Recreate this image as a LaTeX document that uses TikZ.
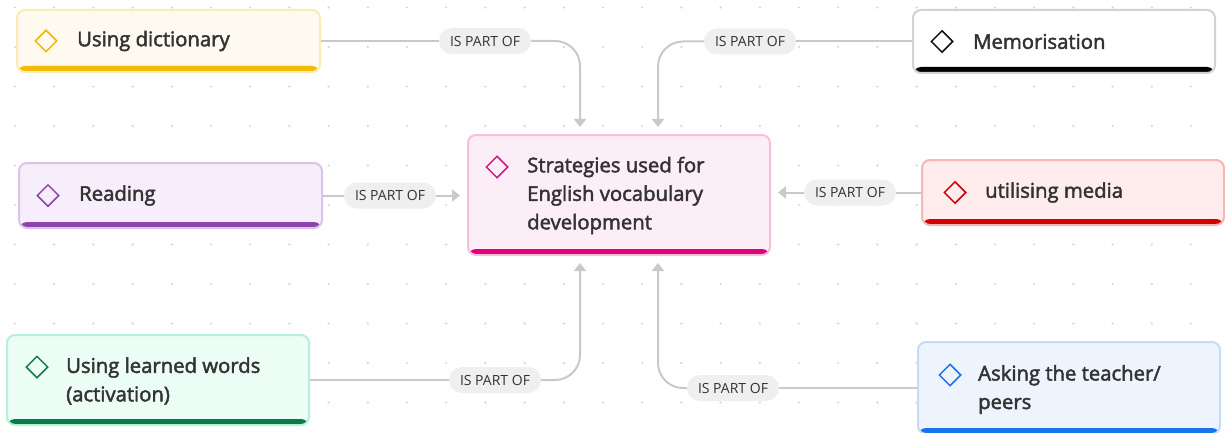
\documentclass[tikz,border=0pt]{standalone}
\usepackage{fontspec}
\setmainfont{Open Sans}
\newfontfamily\boxfont[FakeBold=2.2]{Open Sans}
\usetikzlibrary{arrows.meta,shapes.geometric,calc}

\definecolor{ink}{HTML}{333333}
\definecolor{wire}{HTML}{C9C9C9}
\definecolor{pill}{HTML}{EFEFEF}
\definecolor{dotc}{HTML}{D6D6D6}

\definecolor{dictFill}{HTML}{FFFAF0}\definecolor{dictLine}{HTML}{FCEBB6}\definecolor{dictBar}{HTML}{F4B900}\definecolor{dictIcon}{HTML}{EDB800}
\definecolor{memoFill}{HTML}{FFFFFF}\definecolor{memoLine}{HTML}{D2D2D2}\definecolor{memoBar}{HTML}{000000}\definecolor{memoIcon}{HTML}{111111}
\definecolor{mainFill}{HTML}{FCEEF6}\definecolor{mainLine}{HTML}{F6C0DD}\definecolor{mainBar}{HTML}{E3007D}\definecolor{mainIcon}{HTML}{C81F7E}
\definecolor{readFill}{HTML}{F6EEFA}\definecolor{readLine}{HTML}{DCC3EC}\definecolor{readBar}{HTML}{8E44AD}\definecolor{readIcon}{HTML}{8E44AD}
\definecolor{mediaFill}{HTML}{FFECEC}\definecolor{mediaLine}{HTML}{F6B6B6}\definecolor{mediaBar}{HTML}{D20000}\definecolor{mediaIcon}{HTML}{CC0000}
\definecolor{usedFill}{HTML}{ECFDF5}\definecolor{usedLine}{HTML}{B6F0D7}\definecolor{usedBar}{HTML}{0B7A4B}\definecolor{usedIcon}{HTML}{127A50}
\definecolor{askFill}{HTML}{EEF4FD}\definecolor{askLine}{HTML}{C6DBF5}\definecolor{askBar}{HTML}{1A73E8}\definecolor{askIcon}{HTML}{1A73E8}

\tikzset{
  card/.style={rectangle, rounded corners=8pt, line width=2pt,
    draw=#1Line, fill=#1Fill,
    path picture={\fill[#1Bar] (path picture bounding box.south west)
      rectangle ([yshift=6pt]path picture bounding box.east |- path picture bounding box.south);}},
  cardtext/.style={anchor=west, inner sep=0pt, align=left, text=ink,
    font=\boxfont\fontsize{20.3}{28.5}\selectfont},
  icon/.style={diamond, draw=#1, line width=1.5pt, minimum width=22pt,
    minimum height=22pt, inner sep=0pt},
  relation/.style={fill=pill, rounded corners=13pt, minimum height=26pt,
    inner xsep=11pt, inner ysep=0pt, text=ink, font=\fontsize{14}{16}\selectfont},
  wireline/.style={draw=wire, line width=2pt},
  wirearrow/.style={wireline, -{Triangle[width=12pt,length=8pt]}, shorten >=7pt},
}

\begin{document}
\begin{tikzpicture}[x=1pt, y=-1pt]
\useasboundingbox (0,0) rectangle (1225,433);
\fill[white] (0,0) rectangle (1225,433);

% dotted canvas grid
\foreach \i in {0,...,31}{
  \foreach \j in {0,...,10}{
    \fill[dotc] ({15+39.2*\i},{7.5+39.5*\j}) circle (1.2pt);
  }
}

% cards
\node[card=main, minimum width=302pt, minimum height=120pt] (main) at (619,195) {};
\node[icon=mainIcon] (mainI) at (497,167) {};
\node[cardtext] (mainT) at (527,195.5) {Strategies used for\\English vocabulary\\development};

\node[card=dict, minimum width=303pt, minimum height=62pt] (dict) at (168.5,41) {};
\node[icon=dictIcon] (dictI) at (46,41) {};
\node[cardtext] (dictT) at (77,41) {Using dictionary};

\node[card=memo, minimum width=302pt, minimum height=63pt] (memo) at (1064,41.5) {};
\node[icon=memoIcon] (memoI) at (942,41.5) {};
\node[cardtext] (memoT) at (973,41.5) {Memorisation};

\node[card=read, minimum width=303pt, minimum height=65pt] (read) at (170.5,195.5) {};
\node[icon=readIcon] (readI) at (48,195.5) {};
\node[cardtext] (readT) at (79,195.5) {Reading};

\node[card=media, minimum width=302pt, minimum height=65pt] (media) at (1073,192.5) {};
\node[icon=mediaIcon] (mediaI) at (955,192.5) {};
\node[cardtext] (mediaT) at (985,192.5) {utilising media};

\node[card=used, minimum width=302pt, minimum height=90pt] (used) at (158,380) {};
\node[icon=usedIcon] (usedI) at (37,367) {};
\node[cardtext] (usedT) at (66,381) {Using learned words\\(activation)};

\node[card=ask, minimum width=302pt, minimum height=92pt] (ask) at (1069,388) {};
\node[icon=askIcon] (askI) at (950,375) {};
\node[cardtext] (askT) at (978,389.5) {Asking the teacher/\\peers};

% relation labels
\node[relation] (r1) at (485,41) {IS PART OF};
\node[relation] (r2) at (750,41.5) {IS PART OF};
\node[relation] (r3) at (390,195.5) {IS PART OF};
\node[relation] (r4) at (850,192.5) {IS PART OF};
\node[relation] (r5) at (495,380) {IS PART OF};
\node[relation] (r6) at (733,388) {IS PART OF};

% connectors
\draw[wireline] (dict.east) -- (r1.west);
\draw[wirearrow, rounded corners=25pt] (r1.east) -| ($(main.north)+(-39,0)$);

\draw[wireline] (memo.west) -- (r2.east);
\draw[wirearrow, rounded corners=25pt] (r2.west) -| ($(main.north)+(39,0)$);

\draw[wireline] (read.east) -- (r3.west);
\draw[wirearrow] (r3.east) -- (r3.east -| main.west);

\draw[wireline] (media.west) -- (r4.east);
\draw[wirearrow] (r4.west) -- (r4.west -| main.east);

\draw[wireline] (used.east) -- (r5.west);
\draw[wirearrow, rounded corners=25pt] (r5.east) -| ($(main.south)+(-39,0)$);

\draw[wireline] (ask.west) -- (r6.east);
\draw[wirearrow, rounded corners=25pt] (r6.west) -| ($(main.south)+(39,0)$);
\end{tikzpicture}
\end{document}
